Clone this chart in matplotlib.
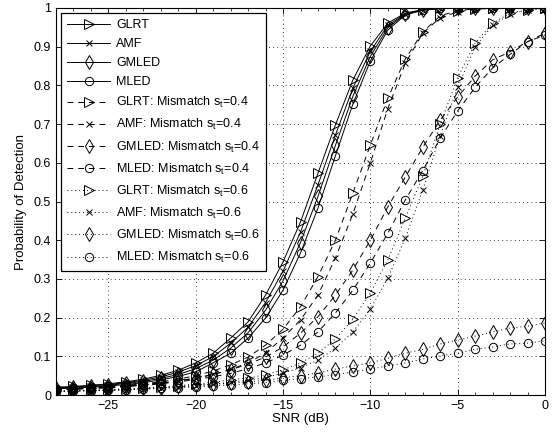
import matplotlib
matplotlib.use("Agg")
import matplotlib.pyplot as plt
from matplotlib.ticker import MultipleLocator

plt.rcParams['font.family'] = ['Liberation Sans', 'DejaVu Sans']
plt.rcParams['axes.unicode_minus'] = True

snr = list(range(-28, 1))

glrt = [0.020,0.022,0.025,0.029,0.034,0.041,0.051,0.064,0.083,0.108,0.147,0.189,0.258,0.344,0.447,0.573,0.698,0.814,0.902,0.961,0.987,0.996,0.999,1,1,1,1,1,1]
amf = [0.019,0.021,0.024,0.027,0.032,0.038,0.047,0.059,0.076,0.099,0.134,0.175,0.239,0.320,0.421,0.543,0.672,0.793,0.888,0.955,0.985,0.995,0.999,1,1,1,1,1,1]
gmled = [0.018,0.020,0.022,0.025,0.030,0.035,0.043,0.053,0.068,0.090,0.121,0.161,0.219,0.295,0.394,0.513,0.645,0.772,0.875,0.949,0.984,0.995,0.999,1,1,1,1,1,1]
mled = [0.016,0.018,0.020,0.023,0.027,0.032,0.039,0.048,0.060,0.083,0.108,0.147,0.199,0.271,0.367,0.483,0.618,0.752,0.863,0.943,0.982,0.994,0.999,1,1,1,1,1,1]

glrt_04 = [0.014,0.016,0.018,0.021,0.025,0.029,0.034,0.041,0.050,0.062,0.078,0.098,0.129,0.170,0.228,0.306,0.400,0.522,0.646,0.767,0.868,0.938,0.980,0.993,0.998,1,1,1,1]
amf_04 = [0.013,0.015,0.017,0.019,0.022,0.026,0.030,0.036,0.043,0.053,0.066,0.083,0.108,0.148,0.194,0.258,0.354,0.468,0.600,0.740,0.857,0.935,0.975,0.990,0.997,0.999,1,1,1]
gmled_04 = [0.014,0.016,0.018,0.020,0.023,0.027,0.031,0.037,0.044,0.053,0.065,0.080,0.098,0.124,0.160,0.202,0.258,0.323,0.400,0.486,0.563,0.640,0.710,0.770,0.824,0.866,0.887,0.913,0.935]
mled_04 = [0.013,0.015,0.017,0.019,0.022,0.025,0.029,0.034,0.040,0.047,0.056,0.068,0.083,0.103,0.129,0.163,0.212,0.271,0.341,0.418,0.504,0.580,0.664,0.734,0.795,0.845,0.880,0.913,0.930]

glrt_06 = [0.010,0.011,0.012,0.014,0.016,0.018,0.021,0.024,0.028,0.033,0.039,0.044,0.052,0.065,0.083,0.108,0.145,0.196,0.264,0.349,0.457,0.565,0.700,0.820,0.910,0.960,0.987,0.995,0.999]
amf_06 = [0.009,0.010,0.011,0.012,0.014,0.016,0.018,0.021,0.024,0.028,0.033,0.038,0.045,0.057,0.070,0.090,0.121,0.163,0.222,0.302,0.405,0.530,0.670,0.795,0.900,0.955,0.985,0.995,0.999]
gmled_06 = [0.010,0.011,0.012,0.013,0.015,0.017,0.019,0.022,0.025,0.028,0.031,0.034,0.038,0.044,0.050,0.057,0.067,0.075,0.083,0.095,0.108,0.118,0.132,0.142,0.152,0.163,0.173,0.178,0.186]
mled_06 = [0.009,0.010,0.011,0.012,0.013,0.015,0.017,0.019,0.021,0.024,0.026,0.029,0.032,0.038,0.042,0.047,0.052,0.060,0.067,0.075,0.083,0.093,0.101,0.108,0.118,0.124,0.132,0.134,0.140]

labels = ['GLRT', 'AMF', 'GMLED', 'MLED',
          r'GLRT: Mismatch $\mathregular{s_t}$=0.4', r'AMF: Mismatch $\mathregular{s_t}$=0.4',
          r'GMLED: Mismatch $\mathregular{s_t}$=0.4', r'MLED: Mismatch $\mathregular{s_t}$=0.4',
          r'GLRT: Mismatch $\mathregular{s_t}$=0.6', r'AMF: Mismatch $\mathregular{s_t}$=0.6',
          r'GMLED: Mismatch $\mathregular{s_t}$=0.6', r'MLED: Mismatch $\mathregular{s_t}$=0.6']
series = [glrt, amf, gmled, mled, glrt_04, amf_04, gmled_04, mled_04, glrt_06, amf_06, gmled_06, mled_06]
markers = ['>', 'x', 'd', 'o'] * 3
msizes = {'>': 6.5, 'x': 4.5, 'd': 7, 'o': 6}
styles = ['-'] * 4 + [(0, (6, 5))] * 4 + [(0, (1, 3))] * 4

xticks = [-25, -20, -15, -10, -5, 0]
yticks = [0, 0.1, 0.2, 0.3, 0.4, 0.5, 0.6, 0.7, 0.8, 0.9, 1]
yticklabels = ['0', '0.1', '0.2', '0.3', '0.4', '0.5', '0.6', '0.7', '0.8', '0.9', '1']

fig = plt.figure(figsize=(5.55, 4.33), dpi=100)
ax = fig.add_axes([56/555, 38/433, 489/555, 387/433])

for y, lab, m, ls in zip(series, labels, markers, styles):
    ax.plot(snr, y, linestyle=ls, color='black', linewidth=0.7, marker=m,
            markersize=msizes[m], markerfacecolor='none', markeredgecolor='black',
            markeredgewidth=0.7, label=lab)

ax.set_xlim(-28, 0)
ax.set_ylim(0, 1)
ax.set_xticks(xticks)
ax.set_yticks(yticks)
ax.set_yticklabels(yticklabels)
ax.xaxis.set_minor_locator(MultipleLocator(1))
ax.tick_params(direction='in', which='both', top=True, right=True, labelsize=9)
ax.tick_params(which='major', length=4, width=0.6)
ax.tick_params(which='minor', length=2, width=0.5)
ax.grid(True, which='major', linestyle=(0, (1, 4)), color='black', linewidth=0.6)
for s in ax.spines.values():
    s.set_linewidth(0.8)

ax.set_xlabel('SNR (dB)', fontsize=9.5, labelpad=1)
ax.set_ylabel('Probability of Detection', fontsize=9.5, labelpad=5)

leg = ax.legend(loc='upper left', fontsize=9, numpoints=1, handlelength=3.4,
                fancybox=False, framealpha=1, edgecolor='black',
                borderaxespad=0.4, labelspacing=0.56, handletextpad=0.5,
                borderpad=0.5)
leg.get_frame().set_linewidth(0.9)

fig.savefig('out.png', dpi=100)
